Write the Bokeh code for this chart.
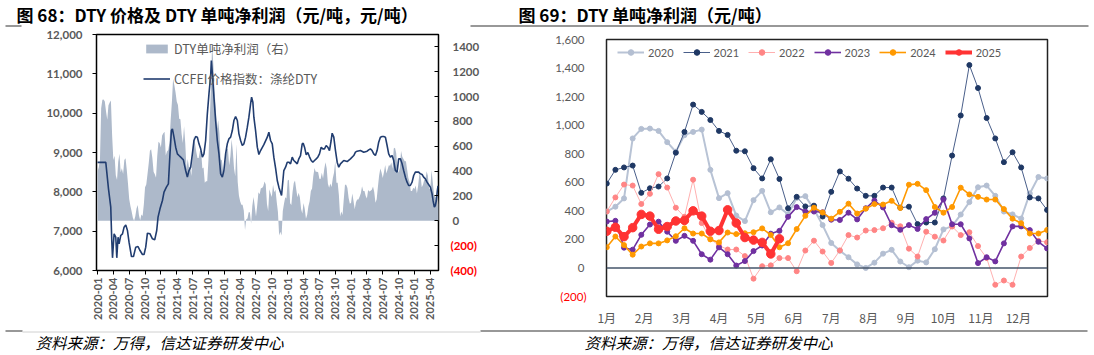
import math
from bokeh.plotting import figure
from bokeh.models import (Range1d, LinearAxis, FixedTicker, NumeralTickFormatter,
                          Legend, LegendItem, Span)
from bokeh.layouts import column, row
from bokeh.embed import file_html
from bokeh.resources import INLINE
from bokeh.core.properties import value

NUM_FONT = "Lato"
CJK_FONT = "Noto Sans CJK SC"
GRAY = "#595959"
RED = "#ff0000"

title_left = "图 68：DTY 价格及 DTY 单吨净利润（元/吨，元/吨）"
title_right = "图 69：DTY 单吨净利润（元/吨）"
source_text = "资料来源：万得，信达证券研发中心"
legend_left = ["DTY单吨净利润（右）", "CCFEI价格指数：涤纶DTY"]

# ---------------- weekly DTY net profit per ton (yuan/ton), 52 weeks per year
years = ["2020", "2021", "2022", "2023", "2024", "2025"]
profit_2020 = [395, 429, 487, 907, 974, 976, 960, 881, 814, 930, 953, 969, 687, 489, 524, 367, 328, 475, 540, 390,
               424, 376, 490, 503, 411, 300, 175, 120, 75, 25, 0, 37, 100, 127, 45, 5, 51, 39, 131, 270,
               293, 374, 461, 565, 577, 505, 395, 375, 346, 522, 637, 627]
profit_2021 = [591, 687, 704, 717, 526, 558, 570, 627, 807, 953, 1144, 1093, 1036, 960, 932, 821, 817, 699, 627, 761,
               623, 418, 498, 431, 436, 360, 533, 676, 625, 556, 505, 505, 563, 563, 422, 429, 307, 318, 318, 487,
               787, 1068, 1421, 1260, 1050, 907, 741, 810, 704, 494, 487, 406]
profit_2022 = [395, 494, 584, 577, 448, 519, 657, 563, 422, 358, 618, 314, 203, 157, 129, 129, 83, -75, 12, 18,
               69, 69, -23, 122, 191, 115, 35, 123, 230, 213, 262, 265, 278, 317, 292, 135, 80, 254, 219, 192,
               290, 230, 250, 153, 70, -118, -88, -118, 80, 140, 190, 180]
profit_2023 = [325, 330, 142, 128, 232, 304, 324, 254, 190, 225, 190, 96, 58, 144, 96, 17, 48, 118, 157, 240,
               260, 358, 426, 395, 395, 390, 338, 336, 387, 340, 418, 472, 424, 299, 267, 300, 273, 342, 386, 480,
               306, 306, 207, 34, 75, 46, 172, 291, 291, 265, 183, 137]
profit_2024 = [145, 220, 160, 93, 150, 172, 172, 193, 222, 278, 241, 241, 200, 179, 248, 237, 243, 250, 277, 231,
               145, 173, 272, 365, 422, 388, 345, 393, 450, 381, 415, 447, 444, 470, 420, 583, 589, 545, 427, 387,
               427, 562, 515, 498, 479, 479, 412, 345, 313, 241, 241, 266]
profit_2025 = [257, 285, 219, 282, 375, 363, 271, 290, 329, 333, 400, 363, 257, 262, 407, 315, 213, 195, 179, 98, 204]
profits = [profit_2020, profit_2021, profit_2022, profit_2023, profit_2024, profit_2025]

month_labels = ["1月", "2月", "3月", "4月", "5月", "6月", "7月", "8月", "9月", "10月", "11月", "12月"]
weeks_per_year = 52

# ---------------- CCFEI DTY price index (yuan/ton); time in months since 2020-01
price_t = [0.0, 1.57, 2.08, 2.51, 2.70, 2.84, 3.14, 3.46, 3.65, 3.89, 4.08, 4.40, 4.73, 5.03, 5.35, 5.67, 5.97,
           6.43, 6.81, 7.24, 7.67, 8.05, 8.51, 8.81, 9.13, 9.45, 9.94, 10.40, 10.83, 11.21, 11.46, 11.83, 12.29,
           12.59, 13.04, 13.42, 13.72, 13.99, 14.18, 14.48, 14.80, 15.12, 15.43, 15.75, 16.26, 16.69, 17.01,
           17.32, 17.64, 17.96, 18.26, 18.58, 18.90, 19.21, 19.53, 19.85, 20.15, 20.47, 20.79, 21.10, 21.42,
           21.55, 21.80, 22.04, 22.36, 22.68, 22.99, 23.31, 23.63, 23.93, 24.25, 24.57, 24.88, 25.20, 25.52,
           25.82, 26.14, 26.47, 26.77, 27.09, 27.41, 27.71, 28.03, 28.36, 28.66, 28.98, 29.17, 29.41, 29.60,
           29.92, 30.25, 30.55, 30.87, 31.49, 32.14, 32.44, 32.76, 33.08, 33.38, 33.71, 34.03, 34.33, 34.84,
           35.27, 35.60, 35.92, 36.22, 36.54, 36.86, 37.16, 37.49, 37.81, 38.11, 38.43, 38.75, 38.94, 39.19,
           39.51, 39.81, 40.13, 40.45, 40.76, 41.08, 41.40, 41.70, 42.02, 42.34, 42.65, 42.97, 43.29, 43.59,
           43.91, 44.23, 44.42, 44.73, 45.05, 45.37, 45.67, 45.99, 46.31, 46.62, 47.26, 47.88, 48.51, 48.83,
           49.15, 49.77, 50.40, 51.04, 51.34, 51.66, 51.98, 52.29, 52.61, 52.93, 53.23, 53.55, 53.88, 54.18,
           54.50, 54.82, 55.12, 55.44, 55.77, 56.07, 56.39, 56.71, 57.01, 57.33, 57.66, 57.96, 58.28, 58.60,
           58.90, 59.22, 59.55, 59.85, 60.17, 60.79, 61.12, 61.44, 61.74, 62.06, 62.38, 62.68, 63.01, 63.33,
           63.52, 63.76, 63.95, 64.14, 64.33, 64.46]
price_v = [8750, 8750, 8076, 7610, 6763, 6322, 6932, 6847, 6322, 6847, 6678, 6890, 6932, 7102, 7160, 7017, 6720,
           6356, 6356, 6593, 6610, 6508, 6407, 6407, 6593, 6949, 6932, 6805, 6780, 7017, 7356, 7568, 7780,
           7992, 8119, 8203, 8966, 9559, 9601, 9390, 9135, 8966, 8923, 8881, 8813, 8542, 8373,
           8542, 8627, 8966, 9305, 9407, 9390, 9220, 9093, 8881, 8966, 9305, 9983, 10491, 10957,
           11338, 10915, 10406, 9813, 9305, 8966, 8457, 8373, 8542, 8966, 9220, 9347, 9390, 9559,
           9813, 9915, 9813, 9474, 9305, 9178, 9220, 9390, 9644, 9898, 10237, 10406, 10280, 9898,
           9559, 9135, 8950, 9050, 9200, 9390, 9516, 9305, 9220, 8881, 8600, 8288, 8119, 7907,
           8542, 8627, 8754, 8754, 8712, 8881, 8796, 8754, 8712, 8839, 8923, 9220, 9237, 9135,
           8940, 9000, 8890, 8796, 8754, 8796, 8839, 8881, 8966, 9135, 9093, 9093, 9178, 9135,
           9050, 9305, 9491, 9390, 9050, 8754, 8627, 8712, 8754, 8796, 8771, 8839, 8923, 9008,
           9034, 9050, 9008, 9034, 9067, 9093, 9050, 8966, 8923, 9050, 9262, 9390, 9407, 9407,
           9390, 9178, 8966, 8881, 8923, 8796, 8542, 8500, 8839, 8839, 8712, 8542, 8373, 8246,
           8161, 8161, 8246, 8415, 8500, 8500, 8457, 8440, 8373, 8330, 8246, 8186, 8119, 7950,
           7780, 7610, 7653, 7780, 8034, 8150]
quarter_labels = ["2020-01", "2020-04", "2020-07", "2020-10", "2021-01", "2021-04", "2021-07", "2021-10",
                  "2022-01", "2022-04", "2022-07", "2022-10", "2023-01", "2023-04", "2023-07", "2023-10",
                  "2024-01", "2024-04", "2024-07", "2024-10", "2025-01", "2025-04"]

TOP_H = 27
MID_H = 301
BOT_H = 355 - TOP_H - MID_H


def neg_label(t):
    return "(%d)" % (-t)


# ================= Figure 68 =================
p1 = figure(width=547, height=MID_H, x_range=Range1d(-0.19, 64.55), y_range=Range1d(6000, 12000),
            output_backend="svg", toolbar_location=None, frame_align=False,
            min_border_left=96, min_border_right=109, min_border_top=34 - TOP_H,
            min_border_bottom=TOP_H + MID_H - 270)
p1.extra_y_ranges = {"profit": Range1d(-400, 1500)}
p1.grid.visible = False
p1.outline_line_color = "black"
p1.outline_line_width = 1.5
p1.background_fill_color = "white"
p1.border_fill_color = "white"

wt, wv = [], []
for yi, vals in enumerate(profits):
    for i, v in enumerate(vals):
        wt.append(yi * 12 + i * 12 / weeks_per_year)
        wv.append(v)
area_r = p1.varea(x=wt, y1=0, y2=wv, y_range_name="profit", fill_color="#adb9ca")
line_r = p1.line(price_t, price_v, line_color="#213d70", line_width=1.6)

q_ticks = [3 * k for k in range(len(quarter_labels))]
xa = p1.xaxis[0]
xa.ticker = FixedTicker(ticks=q_ticks)
xa.major_label_overrides = {t: lab for t, lab in zip(q_ticks, quarter_labels)}
xa.major_label_orientation = math.pi / 2
xa.axis_line_color = None
xa.major_tick_out = 4
xa.major_tick_in = 0
xa.major_tick_line_color = "black"
xa.minor_tick_line_color = None
xa.major_label_standoff = 3
xa.major_label_text_font = NUM_FONT
xa.major_label_text_font_size = "11px"
xa.major_label_text_font_style = "bold"
xa.major_label_text_color = GRAY

ya = p1.yaxis[0]
ya.ticker = FixedTicker(ticks=list(range(6000, 12001, 1000)))
ya.formatter = NumeralTickFormatter(format="0,0")
ya.axis_line_color = None
ya.major_tick_out = 4
ya.major_tick_in = 0
ya.minor_tick_line_color = None
ya.major_label_standoff = 10
ya.major_label_text_font = NUM_FONT
ya.major_label_text_font_size = "11.5px"
ya.major_label_text_font_style = "bold"
ya.major_label_text_color = GRAY

r_ticks = list(range(-400, 1401, 200))
# inner right axis: ticks + red negative labels
ra_red = LinearAxis(y_range_name="profit", ticker=FixedTicker(ticks=r_ticks))
ra_red.major_label_overrides = {t: (neg_label(t) if t < 0 else "") for t in r_ticks}
ra_red.axis_line_color = None
ra_red.major_tick_out = 0
ra_red.major_tick_in = 4
ra_red.major_tick_line_color = "black"
ra_red.minor_tick_line_color = None
ra_red.major_label_standoff = 12
ra_red.major_label_text_font = NUM_FONT
ra_red.major_label_text_font_size = "11.5px"
ra_red.major_label_text_font_style = "bold"
ra_red.major_label_text_color = RED
p1.add_layout(ra_red, "right")
# outer right axis: grey positive labels, pulled back over the inner one
ra_gray = LinearAxis(y_range_name="profit", ticker=FixedTicker(ticks=[t for t in r_ticks if t >= 0]))
ra_gray.axis_line_color = None
ra_gray.major_tick_line_color = None
ra_gray.major_tick_out = 0
ra_gray.major_tick_in = 0
ra_gray.minor_tick_line_color = None
ra_gray.major_label_standoff = -27
ra_gray.major_label_text_font = NUM_FONT
ra_gray.major_label_text_font_size = "11.5px"
ra_gray.major_label_text_font_style = "bold"
ra_gray.major_label_text_color = GRAY
p1.add_layout(ra_gray, "right")

leg1 = Legend(items=[LegendItem(label=legend_left[0], renderers=[area_r]),
                     LegendItem(label=legend_left[1], renderers=[line_r])],
              location=(47, 182), orientation="vertical",
              glyph_width=27, glyph_height=11, label_height=18, spacing=11,
              label_standoff=4, padding=0, margin=0,
              background_fill_alpha=0, border_line_color=None,
              label_text_font=CJK_FONT, label_text_font_size="12.5px", label_text_color=GRAY)
p1.add_layout(leg1)

# ================= Figure 69 =================
p2 = figure(width=547, height=MID_H, x_range=Range1d(-0.03, 51.05), y_range=Range1d(-200, 1600),
            output_backend="svg", toolbar_location=None, frame_align=False,
            min_border_left=59, min_border_right=47, min_border_top=39 - TOP_H,
            min_border_bottom=TOP_H + MID_H - 299)
p2.grid.visible = False
p2.outline_line_color = "#222222"
p2.outline_line_width = 1.5
p2.background_fill_color = "white"
p2.border_fill_color = "white"

p2.add_layout(Span(location=0, dimension="width", line_color="#44546a", line_width=1.5))

styles = [
    dict(lc="#b8c3d5", lw=2.0, mc="#b4bfd2", ms=5),
    dict(lc="#4a5f8a", lw=1.0, mc="#1f3864", ms=5),
    dict(lc="#ffb0b0", lw=1.0, mc="#ff8585", ms=5),
    dict(lc="#7030a0", lw=1.6, mc="#7030a0", ms=5),
    dict(lc="#ff9900", lw=1.6, mc="#ff9900", ms=5),
    dict(lc="#ff3333", lw=4.0, mc="#ff3333", ms=8.5),
]
items2 = []
for yr, vals, st in zip(years, profits, styles):
    xs = list(range(len(vals)))
    lr = p2.line(xs, vals, line_color=st["lc"], line_width=st["lw"])
    sr = p2.scatter(xs, vals, size=st["ms"], fill_color=st["mc"], line_color=st["mc"], marker="circle")
    items2.append(LegendItem(label=yr, renderers=[lr, sr]))

m_ticks = [m * weeks_per_year / 12 for m in range(12)]
xb = p2.xaxis[0]
xb.ticker = FixedTicker(ticks=m_ticks)
xb.major_label_overrides = {t: lab for t, lab in zip(m_ticks, month_labels)}
xb.axis_line_color = None
xb.major_tick_line_color = None
xb.minor_tick_line_color = None
xb.major_label_standoff = 6
xb.major_label_text_font = CJK_FONT
xb.major_label_text_font_size = "12px"
xb.major_label_text_color = GRAY

l_ticks = list(range(-200, 1601, 200))
# inner left axis: red negative label only
yb = p2.yaxis[0]
yb.ticker = FixedTicker(ticks=l_ticks)
yb.major_label_overrides = {t: (neg_label(t) if t < 0 else "") for t in l_ticks}
yb.axis_line_color = None
yb.major_tick_line_color = None
yb.minor_tick_line_color = None
yb.major_label_standoff = 14
yb.major_label_text_font = NUM_FONT
yb.major_label_text_font_size = "11.5px"
yb.major_label_text_color = RED
# outer left axis: grey labels pulled back over the inner one
yb2 = LinearAxis(ticker=FixedTicker(ticks=[t for t in l_ticks if t >= 0]),
                 formatter=NumeralTickFormatter(format="0,0"))
yb2.axis_line_color = None
yb2.major_tick_line_color = None
yb2.minor_tick_line_color = None
yb2.major_tick_out = 0
yb2.major_tick_in = 0
yb2.major_label_standoff = -27
yb2.major_label_text_font = NUM_FONT
yb2.major_label_text_font_size = "11.5px"
yb2.major_label_text_color = GRAY
p2.add_layout(yb2, "left")

leg2 = Legend(items=items2, location=(11, 236), orientation="horizontal",
              glyph_width=27, glyph_height=14, label_height=16, spacing=9,
              label_standoff=4, padding=0, margin=0,
              background_fill_alpha=0, border_line_color=None,
              label_text_font=NUM_FONT, label_text_font_size="11px", label_text_color=GRAY)
p2.add_layout(leg2)


# ================= title strip and source strip =================
def strip(h):
    s = figure(width=1094, height=h, x_range=Range1d(0, 1094), y_range=Range1d(h, 0),
               output_backend="svg", toolbar_location=None, min_border=0,
               x_axis_type=None, y_axis_type=None)
    s.grid.visible = False
    s.outline_line_color = None
    s.background_fill_color = "white"
    s.border_fill_color = "white"
    return s


top = strip(TOP_H)
top.text(x=[16, 518], y=[13.5, 13.5], text=[title_left, title_right], text_font=value(CJK_FONT),
         text_font_size="17px", text_font_style="bold", text_baseline="middle", text_color="black")
top.segment(x0=[5, 470], y0=[25.5, 25.5], x1=[21, 1088], y1=[25.5, 25.5], line_color="#333333", line_width=1.2)

bottom = strip(BOT_H)
bottom.segment(x0=[5, 480], y0=[2.5, 2.5], x1=[22, 1087], y1=[2.5, 2.5], line_color="#333333", line_width=1.2)
bottom.segment(x0=[22], y0=[3.5], x1=[480], y1=[3.5], line_color="#d0d0d0", line_width=1.0)
bottom.text(x=[35, 584], y=[13, 13], text=[source_text, source_text], text_font=value(CJK_FONT),
            text_font_size="15.5px", text_font_style="italic", text_baseline="middle", text_color="black")

layout = column(top, row(p1, p2), bottom)
open("out.html", "w").write(file_html(layout, INLINE))
